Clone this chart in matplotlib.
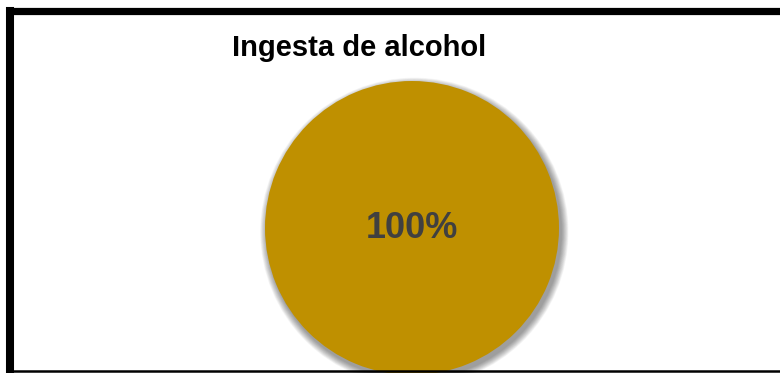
import matplotlib.pyplot as plt
from matplotlib.lines import Line2D
from matplotlib.patches import Circle

plt.rcParams['font.family'] = ['Liberation Sans', 'DejaVu Sans']

titulo = 'Ingesta de alcohol'
categorias = ['Sí']
valores = [100]
colores = ['#BF9000']

W, H = 780, 373
fig = plt.figure(figsize=(W / 100, H / 100), dpi=100)

# ejes cuadrados donde va el pastel (centro ~ (412, 228) px, radio ~147 px)
cx, cy, r = 412, 228, 147
ax = fig.add_axes([(cx - r) / W, (H - cy - r) / H, 2 * r / W, 2 * r / H])

wedges, texts = ax.pie(valores, colors=colores, radius=1, startangle=90,
                       labels=None, wedgeprops={'linewidth': 0})
for w in wedges:
    w.set_zorder(2)
    w.set_clip_on(False)

# sombra difusa abajo a la derecha
for i in range(14):
    ax.add_patch(Circle((0.016, -0.026), 1.0 + 0.0035 * (14 - i), color='black',
                        alpha=0.03, lw=0, zorder=0, clip_on=False))

ax.set_xlim(-1, 1)
ax.set_ylim(-1, 1)
ax.set_aspect('equal')
ax.axis('off')

total = sum(valores)
for v in valores:
    ax.text(0, 0, f'{v / total * 100:.0f}%', ha='center', va='center',
            fontsize=26, fontweight='bold', color='#404040', zorder=3)

fig.text(359 / W, 1 - 56 / H, titulo, ha='center', va='baseline',
         fontsize=21, fontweight='bold', color='black')

# marco negro
fig.add_artist(Line2D([10 / W, 10 / W], [1 - 10.5 / H, 0], color='black', lw=5.8,
                      solid_capstyle='projecting'))
fig.add_artist(Line2D([10 / W, 1], [1 - 10.5 / H, 1 - 10.5 / H], color='black', lw=5.2,
                      solid_capstyle='projecting'))
fig.add_artist(Line2D([10 / W, 1], [1 - 370.5 / H, 1 - 370.5 / H], color='black', lw=1.8))

fig.savefig('out.png', dpi=100)
